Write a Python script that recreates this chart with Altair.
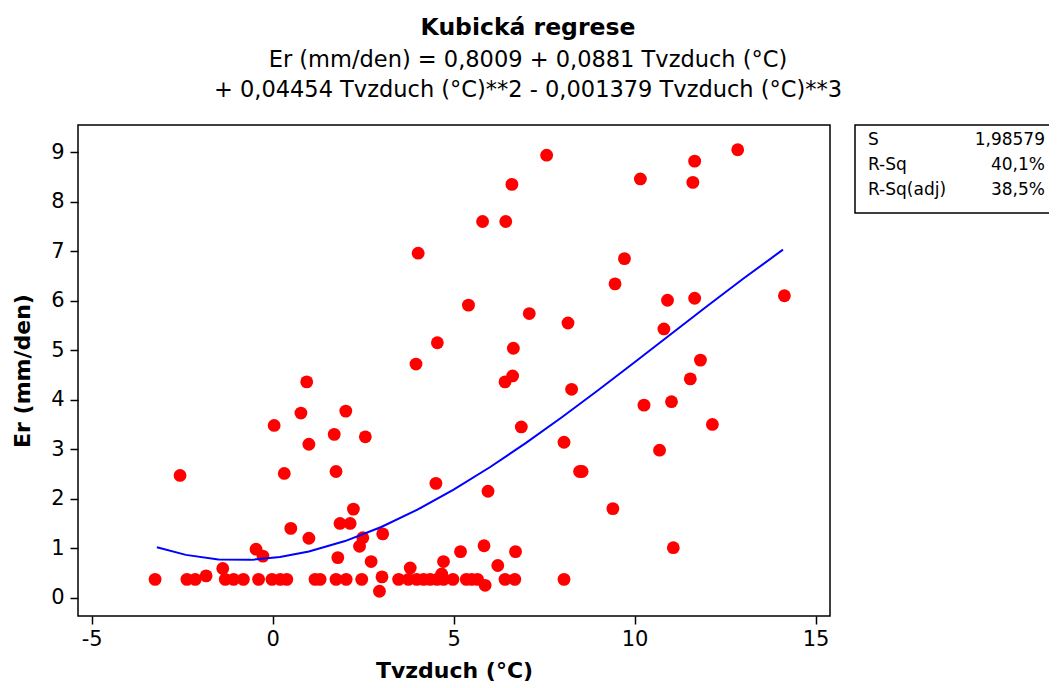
import altair as alt
import pandas as pd

# ---------------- data ----------------
temp = [-3.25, -2.37, -2.14, -1.31, -1.08, -0.81, -0.39, -0.02, 0.21, 0.39,
        1.17, 1.31, 1.75, 2.03, 2.46, 3.48, 3.75, 3.98, 4.17, 4.35,
        4.54, 4.72, 4.98, 5.35, 5.50, 5.66, 6.42, 6.69, 8.05,
        -2.56, -1.84, -1.38, -0.46, -0.27, 0.04, 0.32, 0.50, 0.78, 0.94,
        1.00, 1.00, 1.70, 1.75, 1.80, 1.86, 2.02, 2.14, 2.23, 2.40,
        2.49, 2.56, 2.72, 2.95, 3.02, 3.04, 3.80, 3.96, 4.02, 4.51,
        4.55, 4.67, 4.72, 5.19, 5.41, 5.80, 5.84, 5.87, 5.95, 6.22,
        6.42, 6.44, 6.61, 6.63, 6.65, 6.71, 6.87, 7.09, 7.57, 8.05,
        8.16, 8.26, 8.48, 8.55, 9.40, 9.46, 9.72, 10.16, 10.26, 10.69,
        10.81, 10.91, 11.02, 11.07, 11.54, 11.61, 11.66, 11.66, 11.82, 12.15,
        12.85, 14.14]
er = [0.37, 0.37, 0.37, 0.37, 0.37, 0.37, 0.37, 0.37, 0.37, 0.37,
      0.37, 0.37, 0.37, 0.37, 0.37, 0.37, 0.37, 0.37, 0.37, 0.37,
      0.37, 0.37, 0.37, 0.37, 0.37, 0.37, 0.37, 0.37, 0.37,
      2.47, 0.44, 0.59, 0.98, 0.84, 3.48, 2.51, 1.40, 3.73, 4.36,
      3.10, 1.20, 3.30, 2.55, 0.81, 1.50, 3.77, 1.50, 1.79, 1.04,
      1.21, 3.25, 0.73, 0.13, 0.42, 1.29, 0.60, 4.72, 6.96, 2.31,
      5.15, 0.48, 0.73, 0.93, 5.91, 7.60, 1.05, 0.25, 2.15, 0.65,
      4.36, 7.60, 8.35, 4.48, 5.04, 0.93, 3.45, 5.74, 8.94, 3.14,
      5.55, 4.21, 2.55, 2.55, 1.80, 6.34, 6.85, 8.46, 3.89, 2.98,
      5.43, 6.01, 3.96, 1.01, 4.42, 8.39, 8.82, 6.05, 4.80, 3.50,
      9.05, 6.10]

# fitted curve vertices (as drawn)
fit_x = [-3.2, -2.4, -1.5, -0.6, 0.2, 1.0, 2.0, 3.0, 4.0, 5.0, 6.0, 7.0,
         8.0, 9.0, 10.0, 11.0, 12.0, 13.0, 14.1]
fit_y = [1.02, 0.865, 0.774, 0.764, 0.820, 0.932, 1.144, 1.429, 1.778, 2.183,
         2.635, 3.127, 3.650, 4.196, 4.757, 5.324, 5.889, 6.444, 7.032]

x_ticks = [-5, 0, 5, 10, 15]
y_ticks = [0, 1, 2, 3, 4, 5, 6, 7, 8, 9]

title_text = "Kubická regrese"
subtitle_lines = ["Er (mm/den) =  0,8009 + 0,0881 Tvzduch (°C)",
                  "+ 0,04454 Tvzduch (°C)**2 - 0,001379 Tvzduch (°C)**3"]
x_title = "Tvzduch (°C)"
y_title = "Er (mm/den)"

stats_labels = ["S", "R-Sq", "R-Sq(adj)"]
stats_values = ["1,98579", "40,1%", "38,5%"]

# ---------------- chart ----------------
FONT = "DejaVu Sans"
W, H = 752, 491

pts = pd.DataFrame({"t": temp, "er": er})
fit = pd.DataFrame({"t": fit_x, "er": fit_y})

xs = alt.Scale(domain=[-5.38, 15.4], nice=False, zero=False)
ys = alt.Scale(domain=[-0.37, 9.55], nice=False, zero=False)

xax = alt.Axis(values=x_ticks, title=x_title, grid=False, domain=False,
               tickColor="black", tickSize=8, tickWidth=1.5,
               labelFont=FONT, labelFontSize=21, labelColor="black",
               labelPadding=4, labelExpr="'' + datum.value",
               titleFont=FONT, titleFontSize=22, titleFontWeight="bold",
               titleColor="black", titlePadding=11)
yax = alt.Axis(values=y_ticks, title=y_title, grid=False, domain=False,
               tickColor="black", tickSize=8, tickWidth=1.5,
               labelFont=FONT, labelFontSize=21, labelColor="black",
               labelPadding=6,
               titleFont=FONT, titleFontSize=22, titleFontWeight="bold",
               titleColor="black", titlePadding=16)

points = alt.Chart(pts).mark_circle(size=165, color="#FF0000", opacity=1).encode(
    x=alt.X("t:Q", scale=xs, axis=xax),
    y=alt.Y("er:Q", scale=ys, axis=yax),
)

line = alt.Chart(fit).mark_line(color="#0000FF", strokeWidth=2).encode(
    x=alt.X("t:Q", scale=xs),
    y=alt.Y("er:Q", scale=ys),
    order="t:Q",
)

box = alt.Chart(pd.DataFrame({"a": [0]})).mark_rect(
    fill="white", stroke="black", strokeWidth=1.5
).encode(x=alt.value(777), x2=alt.value(1000), y=alt.value(0), y2=alt.value(88))

layers = [points, line, box]
row_y = [15, 40, 65]
for lab, val, yy in zip(stats_labels, stats_values, row_y):
    df = pd.DataFrame({"lab": [lab], "val": [val]})
    layers.append(alt.Chart(df).mark_text(
        align="left", baseline="middle", font=FONT, fontSize=17, color="black"
    ).encode(x=alt.value(790), y=alt.value(yy), text="lab:N"))
    layers.append(alt.Chart(df).mark_text(
        align="right", baseline="middle", font=FONT, fontSize=17, color="black"
    ).encode(x=alt.value(967), y=alt.value(yy), text="val:N"))

chart = alt.layer(*layers).properties(
    width=W, height=H,
    title=alt.TitleParams(
        text=title_text, subtitle=subtitle_lines,
        font=FONT, fontSize=23.5, fontWeight="bold", color="black",
        subtitleFont=FONT, subtitleFontSize=22.5, subtitleColor="black",
        subtitleLineHeight=30, subtitlePadding=9,
        anchor="middle", dx=74, offset=23,
    ),
    autosize=alt.AutoSizeParams(type="none"),
    padding={"left": 70, "top": 117, "right": 219, "bottom": 72},
).configure(
    background="white"
).configure_view(
    stroke="black", strokeWidth=1.5
)

chart.save("out.html", embed_options={"renderer": "svg", "actions": False})
